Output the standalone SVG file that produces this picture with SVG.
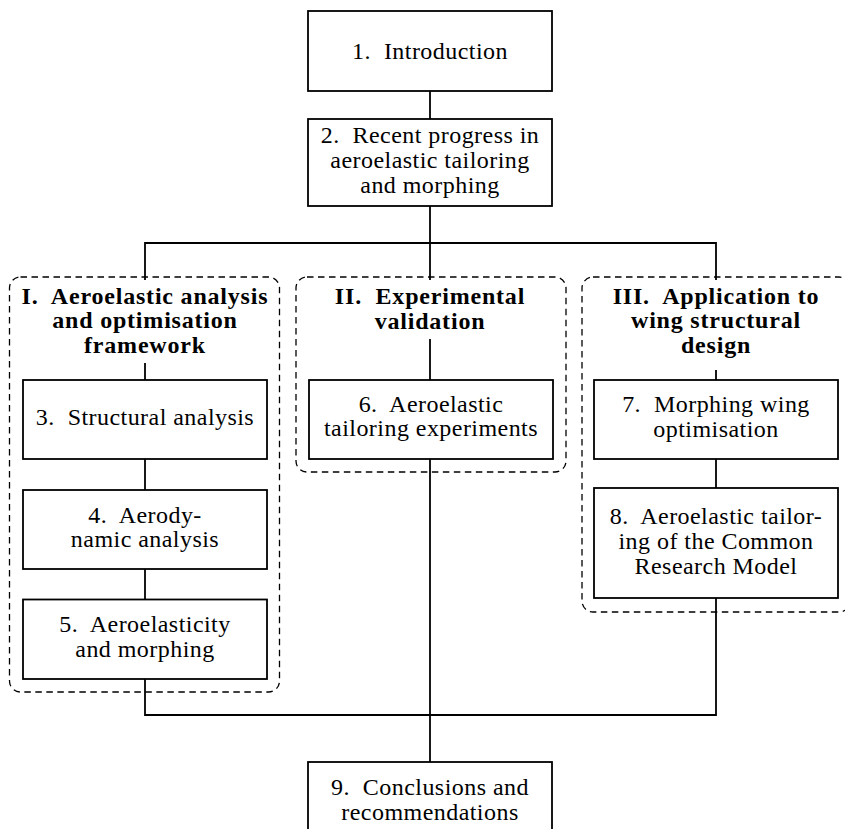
<svg xmlns="http://www.w3.org/2000/svg" width="845" height="829" viewBox="0 0 845 829">
<style>
.bg{fill:#fff}
.box{fill:#fff;stroke:#000;stroke-width:1.8}
.grp{fill:none;stroke:#000;stroke-width:1.3;stroke-dasharray:6.5 4.5}
.ln{fill:none;stroke:#000;stroke-width:1.8}
text{font-family:"Liberation Serif","Times New Roman",serif;font-size:24px;fill:#000;text-anchor:middle;letter-spacing:0.45px}
.t{font-weight:bold;letter-spacing:0.8px}
</style>
<rect class="bg" x="0" y="0" width="845" height="829"/>
<g id="groups">
<rect id="groupI" class="grp" x="9.5" y="277" width="270" height="415" rx="11"/>
<rect id="groupII" class="grp" x="296" y="277" width="270" height="195" rx="11"/>
<rect id="groupIII" class="grp" x="582" y="277" width="268" height="335" rx="11"/>
</g>
<g id="connectors">
<path class="ln" d="M430 91V119"/>
<path class="ln" d="M430 206V280"/>
<path class="ln" d="M145 280V243H716V280"/>
<path class="ln" d="M145 363V380"/>
<path class="ln" d="M430 339V380"/>
<path class="ln" d="M716 370V380"/>
<path class="ln" d="M145 459V490"/>
<path class="ln" d="M145 569V599.5"/>
<path class="ln" d="M716 459V488"/>
<path class="ln" d="M145 679V715H716V598"/>
<path class="ln" d="M430 459V762"/>
</g>
<g id="n1"><rect class="box" x="308" y="11" width="244" height="80"/><text x="430" y="59">1.&#160; Introduction</text></g>
<g id="n2"><rect class="box" x="308" y="119" width="244" height="87"/><text x="430" y="143">2.&#160; Recent progress in</text><text x="430" y="168">aeroelastic tailoring</text><text x="430" y="193">and morphing</text></g>
<g id="tI"><text class="t" x="145" y="304">I.&#160; Aeroelastic analysis</text><text class="t" x="145" y="328">and optimisation</text><text class="t" x="145" y="353">framework</text></g>
<g id="tII"><text class="t" x="430" y="304">II.&#160; Experimental</text><text class="t" x="430" y="329">validation</text></g>
<g id="tIII"><text class="t" x="716" y="304">III.&#160; Application to</text><text class="t" x="716" y="328">wing structural</text><text class="t" x="716" y="353">design</text></g>
<g id="n3"><rect class="box" x="23" y="380" width="244" height="79"/><text x="145" y="425">3.&#160; Structural analysis</text></g>
<g id="n4"><rect class="box" x="23" y="490" width="244" height="79"/><text x="145" y="523">4.&#160; Aerody-</text><text x="145" y="547">namic analysis</text></g>
<g id="n5"><rect class="box" x="23" y="599.5" width="244" height="79.5"/><text x="145" y="632">5.&#160; Aeroelasticity</text><text x="145" y="657">and morphing</text></g>
<g id="n6"><rect class="box" x="309" y="380" width="244" height="79"/><text x="431" y="412">6.&#160; Aeroelastic</text><text x="431" y="436">tailoring experiments</text></g>
<g id="n7"><rect class="box" x="594" y="380" width="244" height="79"/><text x="716" y="412">7.&#160; Morphing wing</text><text x="716" y="437">optimisation</text></g>
<g id="n8"><rect class="box" x="594" y="488" width="244" height="110"/><text x="716" y="524">8.&#160; Aeroelastic tailor-</text><text x="716" y="549">ing of the Common</text><text x="716" y="574">Research Model</text></g>
<g id="n9"><rect class="box" x="308" y="762" width="244" height="90"/><text x="430" y="795">9.&#160; Conclusions and</text><text x="430" y="820">recommendations</text></g>
</svg>
